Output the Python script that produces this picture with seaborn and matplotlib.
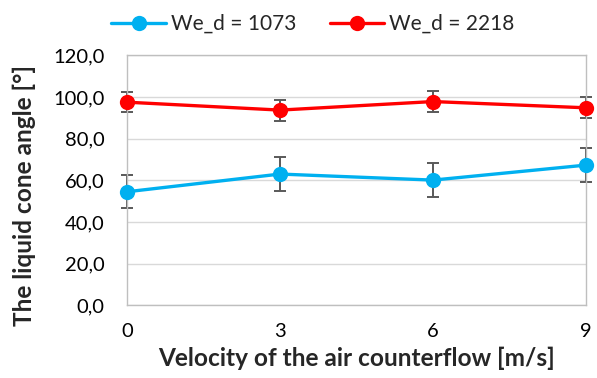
import matplotlib
matplotlib.use('Agg')
import matplotlib.pyplot as plt
import seaborn as sns
import pandas as pd
from matplotlib.ticker import FuncFormatter

# Values
velocity = [0, 3, 6, 9]
angle_1073 = [54.5, 63.0, 60.1, 67.3]
err_1073 = [8.0, 8.0, 8.0, 8.2]
angle_2218 = [97.5, 93.7, 97.8, 94.8]
err_2218 = [4.9, 5.0, 5.0, 5.0]
series_names = ['We_d = 1073', 'We_d = 2218']
colors = ['#00B0F0', '#FF0000']

df = pd.DataFrame({
    'velocity': velocity * 2,
    'angle': angle_1073 + angle_2218,
    'series': [series_names[0]] * 4 + [series_names[1]] * 4,
})

sns.set_style('white')
plt.rcParams['font.family'] = ['Lato', 'DejaVu Sans']

fig = plt.figure(figsize=(5.97, 3.78), dpi=100)
ax = fig.add_axes([0.2127, 0.1923, 0.7689, 0.6614])

# error bars first so the lines sit on top
for vals, errs in [(angle_1073, err_1073), (angle_2218, err_2218)]:
    ax.errorbar(velocity, vals, yerr=errs, fmt='none', ecolor='#595959',
                elinewidth=1.4, capsize=4.5, capthick=1.4, zorder=2, clip_on=False)

sns.lineplot(data=df, x='velocity', y='angle', hue='series', palette=colors,
             marker='o', markersize=11, markeredgewidth=0, linewidth=2.4,
             ax=ax, zorder=3, clip_on=False)

ax.set_xlim(0, 9)
ax.set_ylim(0, 120)
ax.set_xticks(velocity)
ax.set_yticks(range(0, 121, 20))
ax.yaxis.set_major_formatter(FuncFormatter(lambda v, p: f'{v:.1f}'.replace('.', ',')))
ax.tick_params(axis='both', length=0, labelsize=14.5, colors='black')
ax.tick_params(axis='x', pad=13)
ax.tick_params(axis='y', pad=16)
ax.grid(axis='y', color='#D9D9D9', linewidth=1)
for s in ax.spines.values():
    s.set_color('#BFBFBF')
    s.set_linewidth(1)

ax.set_xlabel('Velocity of the air counterflow [m/s]', fontsize=17.6, fontweight='bold')
ax.set_ylabel('The liquid cone angle [°]', fontsize=17.6, fontweight='bold')
ax.xaxis.set_label_coords(0.5, -0.165)
ax.yaxis.set_label_coords(-0.198, 0.44)

ax.legend(loc='center', bbox_to_anchor=(0.524, 0.937), bbox_transform=fig.transFigure,
          ncol=2, frameon=False, fontsize=15, handlelength=2.6, handletextpad=0.25,
          columnspacing=1.6, borderaxespad=0)

fig.savefig('out.png', dpi=100)
